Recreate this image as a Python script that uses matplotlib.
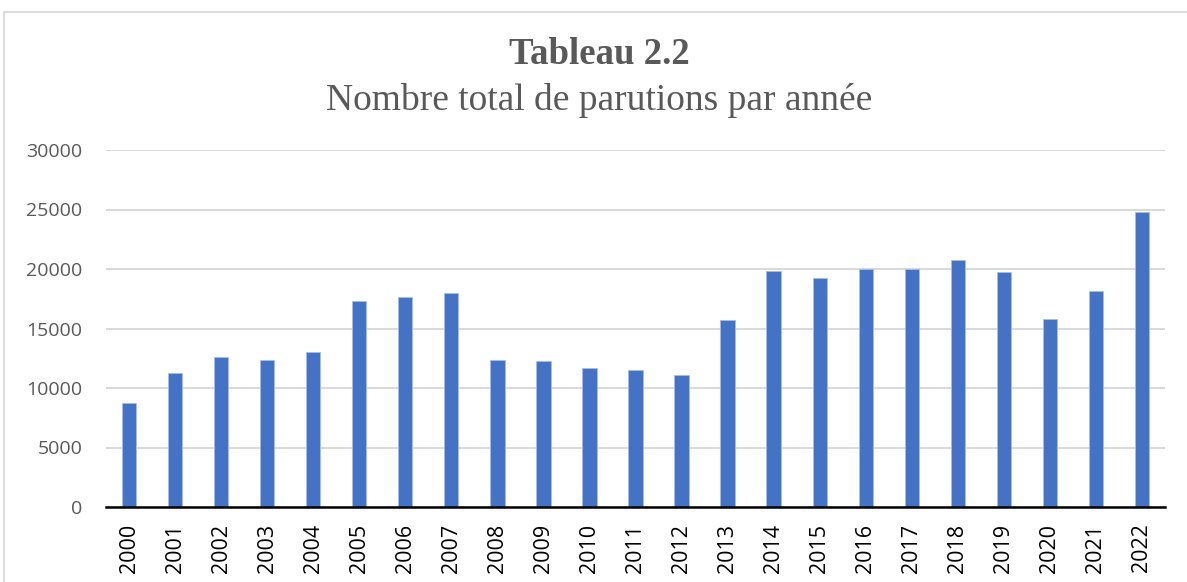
import matplotlib.pyplot as plt
from matplotlib.lines import Line2D

annees = [str(a) for a in range(2000, 2023)]
parutions = [8730, 11250, 12600, 12320, 13050, 17340, 17620, 18010, 12320,
             12260, 11670, 11530, 11110, 15740, 19840, 19250, 20030, 20030,
             20760, 19720, 15830, 18150, 24750]
y_ticks = [0, 5000, 10000, 15000, 20000, 25000, 30000]

fig = plt.figure(figsize=(11.87, 5.82), dpi=100)
ax = fig.add_axes([106 / 1187, 1 - 507 / 582, (1165 - 106) / 1187, (507 - 150) / 582])

x = range(len(annees))
ax.bar(x, parutions, width=0.31, color="#4472c4", edgecolor="#a9bde6", linewidth=0.6, zorder=3)

ax.set_xlim(-0.5, len(annees) - 0.5)
ax.set_ylim(0, 30000)
ax.set_yticks(y_ticks)
ax.set_yticklabels([str(v) for v in y_ticks])
ax.set_xticks(list(x))
ax.set_xticklabels(annees, rotation=90)
ax.tick_params(axis="y", length=0, pad=17, labelsize=14, labelcolor="#595959")
ax.tick_params(axis="x", length=0, pad=12, labelsize=15.5, labelcolor="#000000")
for lab in ax.get_xticklabels() + ax.get_yticklabels():
    lab.set_family("Open Sans")

ax.grid(axis="y", color="#d9d9d9", linewidth=1.4, zorder=0)
for side in ["top", "right", "left"]:
    ax.spines[side].set_visible(False)
ax.spines["bottom"].set_color("#000000")
ax.spines["bottom"].set_linewidth(1.8)
ax.spines["bottom"].set_zorder(4)

# cadre gris du graphique (haut et gauche)
fig.add_artist(Line2D([4 / 1187, 4 / 1187], [0, 1 - 11.5 / 582], color="#d9d9d9", linewidth=1.3))
fig.add_artist(Line2D([4 / 1187, 1], [1 - 11.5 / 582, 1 - 11.5 / 582], color="#d9d9d9", linewidth=1.3))

fig.text(0.505, 1 - 54 / 582, "Tableau 2.2", ha="center", va="center", fontsize=26.5,
         fontweight="bold", family="Liberation Serif", color="#595959")
fig.text(0.505, 1 - 100 / 582, "Nombre total de parutions par année", ha="center", va="center",
         fontsize=27, family="Liberation Serif", color="#595959")

fig.savefig("out.png", dpi=100)
